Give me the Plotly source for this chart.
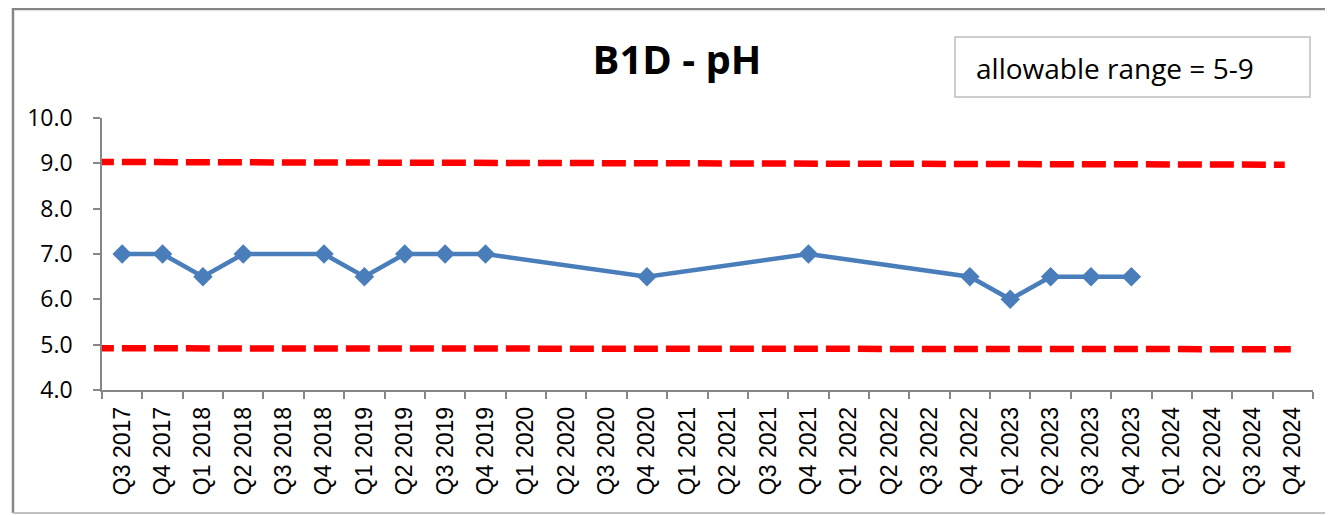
import plotly.graph_objects as go

quarters = [f"Q{q} {y}" for y, qs in [(2017, [3, 4]), (2018, [1, 2, 3, 4]), (2019, [1, 2, 3, 4]),
                                       (2020, [1, 2, 3, 4]), (2021, [1, 2, 3, 4]), (2022, [1, 2, 3, 4]),
                                       (2023, [1, 2, 3, 4]), (2024, [1, 2, 3, 4])] for q in qs]

sample_quarters = ["Q3 2017", "Q4 2017", "Q1 2018", "Q2 2018", "Q4 2018", "Q1 2019", "Q2 2019",
                   "Q3 2019", "Q4 2019", "Q4 2020", "Q4 2021", "Q4 2022", "Q1 2023", "Q2 2023",
                   "Q3 2023", "Q4 2023"]
ph_values = [7.0, 7.0, 6.5, 7.0, 7.0, 6.5, 7.0, 7.0, 7.0, 6.5, 7.0, 6.5, 6.0, 6.5, 6.5, 6.5]

upper_limit = [9.03, 8.97]
lower_limit = [4.92, 4.90]

y_ticks = [4.0, 5.0, 6.0, 7.0, 8.0, 9.0, 10.0]

# figure pixel geometry (page body has an 8px margin)
W, H = 1325, 507
L, R, T, B = 94, 20, 110, 125
PW, PH = W - L - R, H - T - B


def px_x(x):
    return (x - L) / PW


def px_y(y):
    return (H - B - y) / PH


fig = go.Figure()
fig.add_trace(go.Scatter(
    x=sample_quarters, y=ph_values, mode="lines+markers",
    line=dict(color="#4A7EBB", width=4.5),
    marker=dict(symbol="diamond", size=15, color="#4A7EBB"),
    showlegend=False,
))

# red dashed allowable-range lines
fig.add_shape(type="line", xref="x", yref="y", x0=-0.8, x1=28.8,
              y0=upper_limit[0], y1=upper_limit[1],
              line=dict(color="#FF0000", width=6.5, dash="24px,8px"))
fig.add_shape(type="line", xref="x", yref="y", x0=-0.8, x1=28.95,
              y0=lower_limit[0], y1=lower_limit[1],
              line=dict(color="#FF0000", width=6.5, dash="24px,8px"))

# outer chart border
fig.add_shape(type="line", xref="paper", yref="paper",
              x0=px_x(5), x1=px_x(5), y0=px_y(505), y1=px_y(0),
              line=dict(color="#868686", width=2.5))
fig.add_shape(type="line", xref="paper", yref="paper",
              x0=px_x(5), x1=px_x(1325), y0=px_y(1), y1=px_y(1),
              line=dict(color="#868686", width=2.5))
fig.add_shape(type="line", xref="paper", yref="paper",
              x0=px_x(5), x1=px_x(1325), y0=px_y(505), y1=px_y(505),
              line=dict(color="#C0C0C0", width=2))

# legend-like text box
fig.add_shape(type="rect", xref="paper", yref="paper",
              x0=px_x(947), x1=px_x(1302), y0=px_y(89), y1=px_y(29),
              line=dict(color="#BFBFBF", width=1.5), fillcolor="white")
fig.add_annotation(
    text="allowable range = 5-9", xref="paper", yref="paper",
    x=px_x(966), y=px_y(60), xanchor="left", yanchor="middle",
    showarrow=False, font=dict(family="Open Sans, Noto Sans, sans-serif", size=28, color="#000000"),
)

fig.update_layout(
    width=W, height=H,
    margin=dict(l=L, r=R, t=T, b=B, autoexpand=False),
    paper_bgcolor="white", plot_bgcolor="white",
    title=dict(text="<b>B1D - pH</b>", x=669 / W, xanchor="center", y=1 - 52 / H, yanchor="middle",
               font=dict(family="Open Sans, Noto Sans, sans-serif", size=40, color="#000000")),
    xaxis=dict(
        type="category", categoryorder="array", categoryarray=quarters,
        range=[-0.5, len(quarters) - 0.5], tickmode="array", tickvals=quarters,
        tickangle=-90, showline=True, linecolor="#868686", linewidth=1.5,
        ticks="outside", ticklen=7, tickcolor="#868686", tickwidth=1.5,
        tickson="boundaries", showgrid=False, zeroline=False, automargin=False,
        ticklabelstandoff=6,
        tickfont=dict(family="Liberation Sans, Arial, sans-serif", size=23, color="#000000"),
    ),
    yaxis=dict(
        range=[4.0, 10.0], tickvals=y_ticks, tickformat=".1f",
        showline=True, linecolor="#868686", linewidth=1.5,
        ticks="outside", ticklen=7, tickcolor="#868686", tickwidth=1.5,
        showgrid=False, zeroline=False, automargin=False,
        ticklabelstandoff=16,
        tickfont=dict(family="Open Sans, Noto Sans, sans-serif", size=23, color="#000000"),
    ),
)

fig.write_html("out.html")
